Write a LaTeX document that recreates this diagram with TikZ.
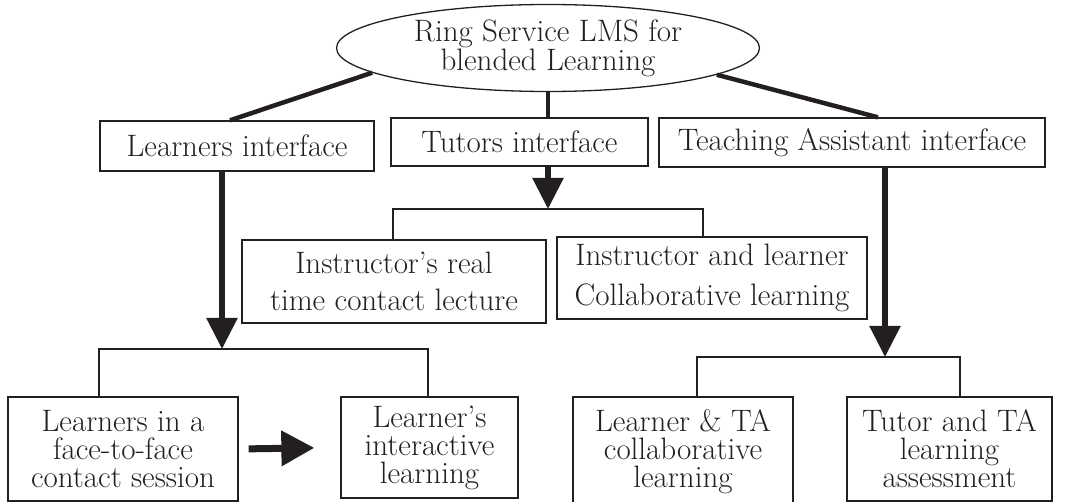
\documentclass[tikz,border=0pt]{standalone}
\usepackage{tikz}
\usetikzlibrary{shapes.geometric,arrows.meta}
\definecolor{ink}{HTML}{231F20}
\tikzstyle{box} = [draw=ink,line width=1.3pt,rectangle,align=center,inner sep=0pt,text=ink,font=\fontsize{31}{28}\selectfont]
\tikzstyle{oval} = [draw=ink,line width=1.3pt,ellipse,align=center,inner sep=0pt,text=ink,font=\fontsize{31}{27}\selectfont]
\tikzstyle{link} = [ink,line width=4.5pt]
\tikzstyle{bracket} = [ink,line width=1.5pt]
\tikzstyle{arrow} = [ink,line width=5.5pt,-{Triangle[width=30pt,length=31pt]}]

\begin{document}
\begin{tikzpicture}[x=1pt,y=-1pt]
      \useasboundingbox (0,0) rectangle (1069,502);

      \node[oval, minimum width=423pt, minimum height=87pt] (root) at (548,48) {Ring Service LMS for\\blended Learning};
      \node[box, minimum width=274pt, minimum height=50pt] (learn) at (237,146) {Learners interface};
      \node[box, minimum width=257pt, minimum height=48pt] (tut) at (519.5,142) {Tutors interface};
      \node[box, minimum width=386pt, minimum height=49pt] (ta) at (852,142.5) {Teaching Assistant interface};
      \node[box, minimum width=304pt, minimum height=83pt, font=\fontsize{31}{37}\selectfont] (instr) at (394,281.5) {Instructor's real\\time contact lecture};
      \node[box, minimum width=310pt, minimum height=82pt, font=\fontsize{31}{40}\selectfont] (collab) at (712,278) {Instructor and learner\\Collaborative learning};
      \node[box, minimum width=230pt, minimum height=104pt] (ftf) at (123,449) {Learners in a\\face-to-face\\contact session};
      \node[box, minimum width=177pt, minimum height=101pt] (inter) at (429.5,447.5) {Learner's\\interactive\\learning};
      \node[box, minimum width=220pt, minimum height=110pt] (lta) at (683,452) {Learner \& TA\\collaborative\\learning};
      \node[box, minimum width=205pt, minimum height=104pt] (tuta) at (949.5,449) {Tutor and TA\\learning\\assessment};

      \coordinate (lbL) at (99,349);
      \coordinate (lbR) at (428,349);
      \coordinate (lbT) at (222,349);
      \coordinate (tbL) at (393,209);
      \coordinate (tbR) at (703,209);
      \coordinate (tbT) at (548,209);
      \coordinate (abL) at (697,357);
      \coordinate (abR) at (960,357);
      \coordinate (abT) at (885,357);

      \draw[link] (root.188) -- ([xshift=-7pt]learn.north);
      \draw[link] (root.south) -- (root.south |- tut.north);
      \draw[link] (root.351) -- ([xshift=26pt]ta.north);

      \draw[arrow] (learn.south -| lbT) -- (lbT);
      \draw[arrow] (tut.south -| tbT) -- (tbT);
      \draw[arrow] (ta.south -| abT) -- (abT);

      \draw[bracket] (lbL |- ftf.north) -- (lbL) -- (lbR) -- (lbR |- inter.north);
      \draw[bracket] (tbL |- instr.north) -- (tbL) -- (tbR) -- (tbR |- collab.north);
      \draw[bracket] (abL |- lta.north) -- (abL) -- (abR) -- (abR |- tuta.north);

      \draw[arrow, line width=7pt, -{Triangle[width=34pt,length=33pt]}, shorten <=10pt, shorten >=26pt] (ftf.east) -- (inter.west);
    \end{tikzpicture}
\end{document}
